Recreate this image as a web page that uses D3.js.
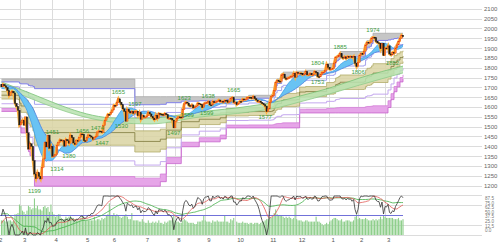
<!DOCTYPE html>
<html>
<head>
<meta charset="utf-8">
<script src="https://cdn.jsdelivr.net/npm/d3@7"></script>
<style>
body { margin: 0; background: #fff; }
svg { display: block; font-family: "Liberation Sans", Arial, sans-serif; }
</style>
</head>
<body>
<svg id="chart" width="500" height="242"></svg>
<script>
// closes before the visible range (Nov 20 2019 - Feb 7 2020), only used by the averages / oscillator
var warmup = [1690,1686,1695,1708,1712,1714,1706,1699,
  1708,1698,1685,1705,1713,1716,1713,1713,1715,1734,1736,1739,1739,1735,1733,1732,1730,1730,1735,1730,1721,
  1697,1725,1701,1729,1736,1744,1732,1735,1735,1744,1730,1738,1722,1721,1686,1680,1692,1667,1684,
  1674,1675,1696,1732,1718];

// daily closes Feb 10 2020 - Mar 17 2021
var closes = [1705,1718,1710,1702,1687,1660,1676,1683,1674,1621,1606,1586,1511,
  1522,1534,1510,1552,1471,1388,1415,1402,1330,1261,1237,1268,1250,1236,1295,1338,1424,1399,1459,1392,1403,
  1351,1353,1360,1407,1421,1435,1430,1431,1403,1437,1430,1418,1459,1447,1419,1411,1432,1429,1448,1465,1464,
  1431,1429,1446,1460,1455,1449,1438,1447,1452,1475,1480,1477,1473,1508,1534,1548,1565,1563,
  1574,1587,1611,1608,1624,1644,1627,1614,1593,1580,1530,1590,1580,1572,1580,1570,1580,1581,1558,1573,1540,1558,
  1551,1551,1557,1575,1567,1555,1546,1537,1561,1545,1569,1566,1565,1561,1569,1563,1545,1545,1544,1536,1496,
  1529,1544,1552,1551,1547,1589,1618,1627,1623,1610,1606,1613,1598,1603,1607,1622,1618,1614,1599,1618,
  1623,1624,1629,1613,1612,1631,1624,1628,1632,1638,1629,1632,1627,1637,1634,1626,1630,1646,1650,1626,
  1626,1614,1621,1631,1630,1643,1640,1642,1650,1652,1650,1646,1655,1645,1638,1630,1632,1626,1619,1614,1607,1579,
  1593,1627,1655,1661,1687,1726,1737,1734,1732,1766,1770,1750,1744,1750,1752,1758,1760,1774,1754,
  1778,1774,1775,1774,1766,1770,1782,1766,1766,1773,1766,1767,1782,1777,1757,1756,1768,1779,1780,1789,1820,1805,
  1794,1795,1797,1826,1855,1858,1864,1874,1856,1850,1858,1849,1860,1856,1860,1854,1861,1825,1808,
  1830,1865,1874,1872,1886,1918,1932,1930,1932,1953,1957,1956,1935,1929,1928,1899,1926,1864,
  1903,1900,1914,1872,1867,1881,1876,1903,1919,1935,1951,1968,1960];

// volume, 100M shares
var volumes = [12,12,12,11,11,12,12,11,12,17,17,18,25,
  24,20,19,17,20,24,23,21,22,30,22,24,21,21,20,23,24,22,23,19,25,
  19,17,15,16,17,17,14,13,13,15,14,15,16,14,14,13,12,12,12,14,16,
  13,12,12,12,12,12,12,15,12,13,13,12,14,13,14,16,17,26,
  16,16,18,16,17,16,15,14,15,16,17,15,13,13,18,12,12,12,12,11,11,13,
  11,10,10,12,10,10,11,10,11,10,12,10,10,9,11,10,11,12,12,12,16,
  12,11,11,10,10,12,13,12,11,10,10,10,10,9,9,11,11,11,12,16,
  12,11,11,11,10,12,11,11,12,11,11,11,11,16,11,11,10,13,12,14,
  0,11,10,10,10,11,10,10,10,9,10,10,9,10,10,10,9,10,11,11,12,13,
  13,14,14,15,18,21,17,16,16,16,15,14,15,14,15,14,13,14,24,
  13,12,12,12,11,11,12,12,11,11,11,11,11,15,11,11,10,9,8,9,10,9,
  11,12,13,14,14,13,12,12,13,11,11,12,12,12,11,11,12,15,17,
  13,14,13,13,13,14,13,12,12,12,13,12,13,12,13,15,13,16,
  15,14,14,14,14,14,13,13,13,14,12,12,13];

var monthIdx = [-3,13,34,55,73,95,116,136,156,178,197,219,238,256];
var monthLabels = ['2','3','4','5','6','7','8','9','10','11','12','1','2','3'];

// price channel (highest high / lowest low), [day, value] steps
var chanHigh = [[0,1745],[89,1655],[165,1662],[180,1665],[181,1672],[182,1700],[183,1730],[184,1745],
  [187,1772],[188,1780],[197,1785],[203,1790],[217,1823],[222,1830],[223,1860],[224,1865],[225,1872],
  [226,1885],[242,1890],[243,1925],[244,1940],[246,1945],[247,1960],[248,1978]];
var chanLow = [[0,1580],[11,1575],[12,1500],[13,1470],[17,1455],[18,1375],[19,1355],[21,1318],[22,1199],
  [106,1222],[110,1314],[120,1400],[132,1425],[146,1440],[150,1496],[199,1572],
  [258,1600],[260,1640],[262,1680],[264,1705],[266,1730],[268,1745]];

// long average ribbon: [day, top, bottom]
var greenBand = [[0,1730,1709],[12,1694,1669],[77,1546,1523],[99,1546,1516],[132,1577,1551],
  [166,1607,1577],[186,1633,1602],[199,1658,1628],[219,1699,1669],[239,1750,1714],[268,1811,1776]];

var labelIdx = [22,34,37,45,54,64,67,78,80,89,115,122,124,137,138,155,176,211,211,226,238,248,261];
var labelVal = [1199,1451,1314,1380,1456,1474,1447,1655,1530,1597,1497,1623,1589,1599,1638,1665,1577,1804,1753,1885,1806,1974,1852];
var labelBelow = [1,0,1,1,0,0,1,0,1,0,1,0,1,1,0,0,1,0,1,0,1,0,1];

var priceTicks = d3.range(1200, 2101, 50);
var subTicks = ['87.5','75.0','62.5','50.0','37.5','25.0','12.5','0.0'];

var N = closes.length;
var all = warmup.concat(closes);
var off = warmup.length;

var svg = d3.select('#chart');
var x = d3.scaleLinear().domain([0, N - 1]).range([1.5, 403]);
var y = d3.scaleLinear().domain([1200, 2100]).range([186, 9.3]);
var yr = d3.scaleLinear().domain([0, 100]).range([235, 196]);
var yv = d3.scaleLinear().domain([0, 32]).range([235, 196]);

svg.append('defs').append('clipPath').attr('id', 'main')
  .append('rect').attr('x', 0).attr('y', 0).attr('width', 410).attr('height', 196);

// grid
var grid = svg.append('g').attr('stroke', '#dcdcdc').attr('shape-rendering', 'crispEdges');
grid.selectAll('line.h').data(priceTicks.concat([1150])).join('line').attr('class', 'h')
  .attr('x1', 0).attr('x2', 482).attr('y1', d => y(d)).attr('y2', d => y(d));
grid.selectAll('line.s').data([75, 25, 0]).join('line').attr('class', 's')
  .attr('x1', 0).attr('x2', 482).attr('y1', d => yr(d)).attr('y2', d => yr(d));
grid.selectAll('line.v').data(monthIdx).join('line').attr('class', 'v')
  .attr('x1', d => x(d)).attr('x2', d => x(d)).attr('y1', 0).attr('y2', 236);

function stepVal(arr, i) {
  var v = arr[0][1];
  arr.forEach(function(d) { if (d[0] <= i) v = d[1]; });
  return v;
}
var chanIdx = Array.from(new Set(chanHigh.map(d => d[0]).concat(chanLow.map(d => d[0]), [N - 1]))).sort((a, b) => a - b);
var chan = chanIdx.map(function(i) {
  var hh = stepVal(chanHigh, i), ll = stepVal(chanLow, i);
  return {i: i, hh: hh, ll: ll, r: hh - ll};
});
function lvl(f) { return d => y(d.hh - f * d.r); }

function sma(n, i) { return d3.mean(all.slice(off + i - n + 1, off + i + 1)); }

// stochastic %K over n closes, for every position of `all`
function stochK(n) {
  return all.map(function(v, j) {
    var win = all.slice(Math.max(0, j - n + 1), j + 1);
    var hi = d3.max(win), lo = d3.min(win);
    return hi > lo ? (v - lo) / (hi - lo) * 100 : 50;
  });
}
function smooth(arr, n) {
  return arr.map((v, j) => d3.mean(arr.slice(Math.max(0, j - n + 1), j + 1)));
}

var days = d3.range(N);
var main = svg.append('g').attr('clip-path', 'url(#main)');

function band(data, xf, top, bot, fill, op, curve) {
  main.append('path').datum(data)
    .attr('d', d3.area().x(xf).y0(bot).y1(top).curve(curve))
    .attr('fill', fill).attr('opacity', op);
}
function edge(data, xf, yf, color, w, curve) {
  main.append('path').datum(data)
    .attr('d', d3.line().x(xf).y(yf).curve(curve))
    .attr('fill', 'none').attr('stroke', color).attr('stroke-width', w);
}
var cx = d => x(d.i), step = d3.curveStepAfter;

// lowest-low zone
band(chan, cx, d => y(d.ll + 0.09 * d.r), d => y(d.ll), '#e6a5e8', 1, step);
edge(chan, cx, d => y(d.ll + 0.09 * d.r), '#d47fd8', 0.8, step);
edge(chan, cx, d => y(d.ll), '#c763cc', 0.8, step);
// 76.4 / 23.6 lines
edge(chan, cx, lvl(0.764), '#c4a8ee', 1, step);
edge(chan, cx, lvl(0.236), '#a7a4ee', 1, step);
// 38.2 - 61.8 zone
band(chan, cx, lvl(0.382), lvl(0.618), '#d9d4a2', 0.85, step);
edge(chan, cx, lvl(0.382), '#b2ad6b', 0.8, step);
edge(chan, cx, lvl(0.618), '#b2ad6b', 0.8, step);
edge(chan, cx, lvl(0.5), '#7d7a3c', 0.8, step);

// long average ribbon
var gx = d => x(d[0]);
band(greenBand, gx, d => y(d[1]), d => y(d[2]), '#b9e2af', 0.85, d3.curveMonotoneX);
edge(greenBand, gx, d => y(d[1]), '#78c276', 0.8, d3.curveMonotoneX);
edge(greenBand, gx, d => y(d[2]), '#8fcc8a', 0.8, d3.curveMonotoneX);

// highest-high zone
band(chan, cx, lvl(0), lvl(0.09), '#c6c6c6', 1, step);
edge(chan, cx, lvl(0), '#a8a8a8', 0.8, step);
edge(chan, cx, lvl(0.09), '#8181ea', 1, step);

// short average ribbon
var ma = days.map(i => ({i: i, a: sma(13, i), b: sma(26, i)}));
band(ma, cx, d => y(d.a), d => y(d.b), '#69c3f3', 1, d3.curveLinear);
edge(ma, cx, d => y(d.a), '#3f9de6', 0.8, d3.curveLinear);
edge(ma, cx, d => y(d.b), '#4a7fe0', 0.8, d3.curveLinear);

// price
main.append('path').datum(days)
  .attr('d', d3.line().x(i => x(i)).y(i => y(closes[i])))
  .attr('fill', 'none').attr('stroke', '#ffb13d').attr('stroke-width', 2.6);
main.selectAll('rect.c').data(days).join('rect').attr('class', 'c')
  .attr('x', i => x(i) - 0.7).attr('width', 1.4)
  .attr('y', i => y(Math.max(all[off + i - 1], closes[i])))
  .attr('height', i => Math.max(0.9, Math.abs(y(all[off + i - 1]) - y(closes[i]))))
  .attr('fill', i => closes[i] >= all[off + i - 1] ? '#ff9a1c' : '#1c1c1c')
  .attr('stroke', i => closes[i] >= all[off + i - 1] ? '#e3341c' : '#1c1c1c')
  .attr('stroke-width', 0.4);

// high / low labels
svg.append('g').attr('fill', '#3f9e3f').attr('font-size', '6px').attr('text-anchor', 'middle')
  .selectAll('text').data(labelIdx).join('text')
  .attr('x', (d, k) => x(d))
  .attr('y', (d, k) => labelBelow[k] ? y(labelVal[k]) + 7 : y(labelVal[k]) - 2.5)
  .text((d, k) => labelVal[k]);

// lower panel
svg.append('g').selectAll('rect').data(days).join('rect')
  .attr('x', i => x(i) - 0.55).attr('width', 1.1)
  .attr('y', i => yv(volumes[i])).attr('height', i => yv(0) - yv(volumes[i]))
  .attr('fill', '#8fcf8c');
svg.append('line').attr('x1', 0).attr('x2', 403).attr('y1', yr(50)).attr('y2', yr(50))
  .attr('stroke', '#7171d9').attr('stroke-width', 1);
var kLine = stochK(52);
[[smooth(kLine, 26), '#3fae45'], [smooth(kLine, 10), '#e25a55'], [kLine, '#333333']].forEach(function(p) {
  svg.append('path').datum(days)
    .attr('d', d3.line().x(i => x(i)).y(i => yr(p[0][off + i])))
    .attr('fill', 'none').attr('stroke', p[1]).attr('stroke-width', 0.8);
});

// axes text
svg.append('g').attr('fill', '#666').attr('font-size', '6px')
  .selectAll('text').data(priceTicks).join('text')
  .attr('x', 484).attr('y', d => y(d) + 2).text(d => d);
svg.append('g').attr('fill', '#777').attr('font-size', '4.6px')
  .selectAll('text').data(subTicks).join('text')
  .attr('x', 485).attr('y', (d, k) => 200 + k * 4.6).text(d => d);
svg.append('g').attr('fill', '#555').attr('font-size', '6px')
  .selectAll('text').data(monthIdx).join('text')
  .attr('x', d => x(d) + 2).attr('y', 241.5).text((d, k) => monthLabels[k]);
</script>
</body>
</html>
